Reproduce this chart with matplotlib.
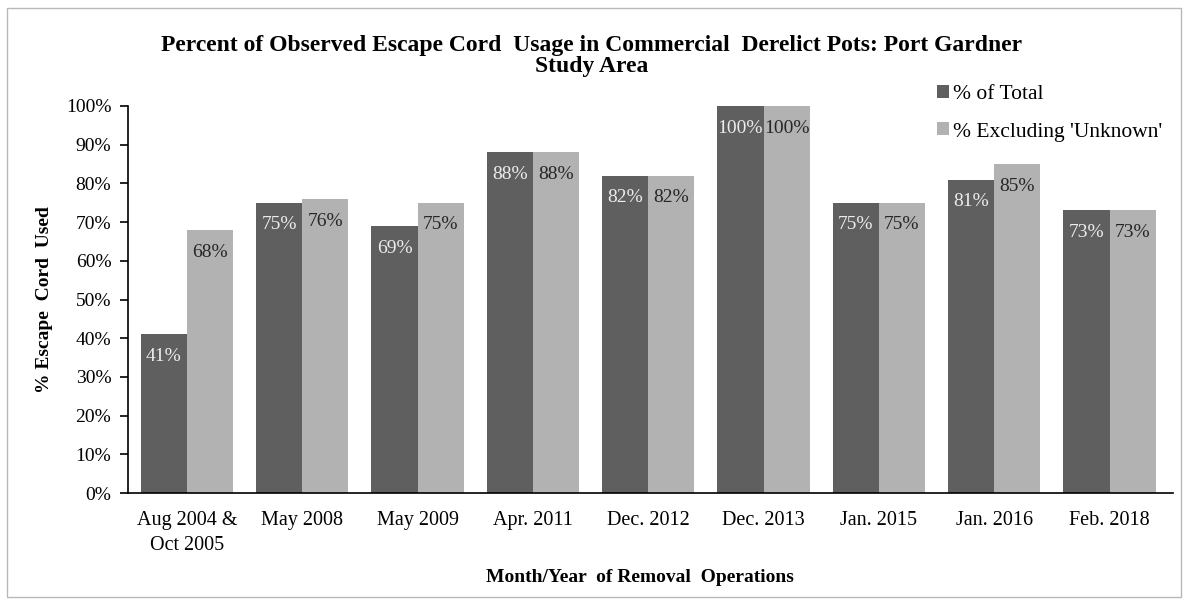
import numpy as np
import matplotlib.pyplot as plt
from matplotlib.patches import Rectangle

plt.rcParams['font.family'] = ['Liberation Serif', 'DejaVu Serif']

# data
categories = ['Aug 2004 &\nOct 2005', 'May 2008', 'May 2009', 'Apr. 2011', 'Dec. 2012',
              'Dec. 2013', 'Jan. 2015', 'Jan. 2016', 'Feb. 2018']
pct_total = [41, 75, 69, 88, 82, 100, 75, 81, 73]
pct_excl = [68, 76, 75, 88, 82, 100, 75, 85, 73]
series_names = ['% of Total', "% Excluding 'Unknown'"]

dark = '#5f5f5f'
light = '#b2b2b2'

fig = plt.figure(figsize=(11.88, 6.05), dpi=100)
ax = fig.add_axes([128 / 1188, 1 - 493 / 605, (1173 - 128) / 1188, (493 - 106) / 605])

x = np.arange(len(categories))
w = 0.40
b1 = ax.bar(x - w / 2, np.array(pct_total) / 100, w, color=dark, label=series_names[0])
b2 = ax.bar(x + w / 2, np.array(pct_excl) / 100, w, color=light, label=series_names[1])

for rect, v in zip(b1, pct_total):
    ax.annotate('%d%%' % v, (rect.get_x() + rect.get_width() / 2, rect.get_height()),
                xytext=(0, -16), textcoords='offset points', ha='center', va='center',
                fontsize=14, color='#ececec')
for rect, v in zip(b2, pct_excl):
    ax.annotate('%d%%' % v, (rect.get_x() + rect.get_width() / 2, rect.get_height()),
                xytext=(0, -16), textcoords='offset points', ha='center', va='center',
                fontsize=14, color='#262626')

ax.set_xlim(-0.51, 8.55)
ax.set_ylim(0, 1)
ax.set_yticks(np.arange(0, 1.01, 0.1))
ax.set_yticklabels(['%d%%' % v for v in range(0, 101, 10)], fontsize=14)
ax.set_xticks(x)
ax.set_xticklabels(categories, fontsize=14.5, linespacing=1.45)
ax.tick_params(axis='x', length=0, pad=13)
ax.tick_params(axis='y', length=6, width=1.2, pad=6)
for s in ['top', 'right']:
    ax.spines[s].set_visible(False)
for s in ['left', 'bottom']:
    ax.spines[s].set_linewidth(1.2)

fig.text(592 / 1188, 1 - 56 / 605,
         'Percent of Observed Escape Cord  Usage in Commercial  Derelict Pots: Port Gardner\nStudy Area',
         ha='center', va='center', fontsize=17, fontweight='bold', linespacing=1.05)
fig.text(45 / 1188, 1 - 300 / 605, '% Escape  Cord  Used', rotation=90, ha='center', va='center',
         fontsize=14, fontweight='bold')
fig.text(640 / 1188, 1 - 577 / 605, 'Month/Year  of Removal  Operations', ha='center', va='center',
         fontsize=14, fontweight='bold')

ax.legend(loc='upper left', bbox_to_anchor=(937 / 1188, 1 - 85 / 605), bbox_transform=fig.transFigure,
          frameon=False, fontsize=15.5, handlelength=0.55, handleheight=0.55, handletextpad=0.2,
          labelspacing=0.85, borderaxespad=0, borderpad=0)

fig.patches.append(Rectangle((7 / 1188, 1 - 597 / 605), 1174 / 1188, 589 / 605,
                             transform=fig.transFigure, fill=False, edgecolor='#b8b8b8', linewidth=1))

fig.savefig('out.png', dpi=100)
